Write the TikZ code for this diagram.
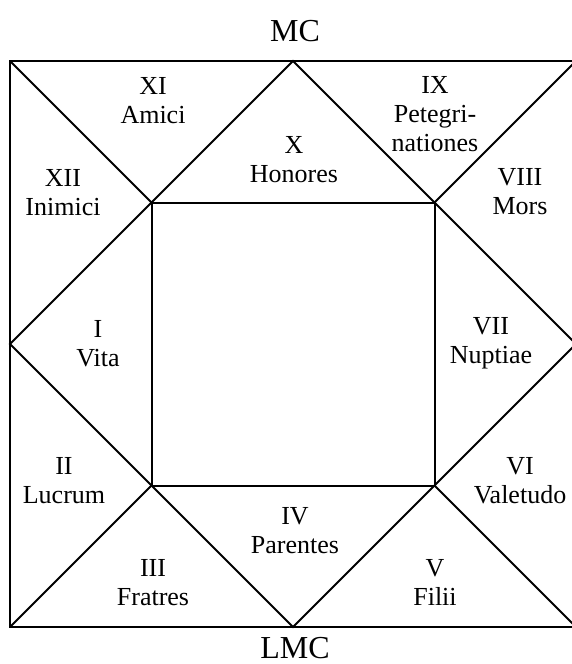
\documentclass[tikz,border=0pt]{standalone}
\usepackage{fontspec}
\setmainfont{Liberation Serif}
\begin{document}
\begin{tikzpicture}[x=1pt,y=-1pt,line width=2pt,
  lbl/.style={align=center,font=\fontsize{26}{29}\selectfont,inner sep=0pt},
  ttl/.style={font=\fontsize{32}{34}\selectfont,inner sep=0pt}]
\useasboundingbox (0,0) rectangle (571,664);
% outer corners
\coordinate (TL) at (10,61);
\coordinate (TR) at (576,61);
\coordinate (BR) at (576,627);
\coordinate (BL) at (10,627);
% midpoints
\coordinate (T) at (293,61);
\coordinate (R) at (576,344);
\coordinate (B) at (293,627);
\coordinate (L) at (10,344);
% inner corners
\coordinate (ITL) at (151.5,202.5);
\coordinate (ITR) at (434.5,202.5);
\coordinate (IBR) at (434.5,485.5);
\coordinate (IBL) at (151.5,485.5);
% drawing
\draw (TL) -- (TR) -- (BR) -- (BL) -- cycle;
\draw (T) -- (R) -- (B) -- (L) -- cycle;
\draw (ITL) -- (ITR) -- (IBR) -- (IBL) -- cycle;
\draw (TL) -- (ITL);
\draw (TR) -- (ITR);
\draw (BR) -- (IBR);
\draw (BL) -- (IBL);
% titles
\node[ttl] (mc) at (295,31) {MC};
\node[ttl] (lmc) at (295,648) {LMC};
% houses
\node[lbl] (h11) at (153,101) {XI\\Amici};
\node[lbl] (h10) at (294,160) {X\\Honores};
\node[lbl] (h9) at (435,114) {IX\\Petegri-\\nationes};
\node[lbl] (h12) at (63,192.5) {XII\\Inimici};
\node[lbl] (h8) at (520,192) {VIII\\Mors};
\node[lbl] (h1) at (98,344) {I\\Vita};
\node[lbl] (h7) at (491,343) {VII\\Nuptiae};
\node[lbl] (h2) at (64,481) {II\\Lucrum};
\node[lbl] (h6) at (520,481) {VI\\Valetudo};
\node[lbl] (h4) at (295,530.5) {IV\\Parentes};
\node[lbl] (h3) at (153,582.5) {III\\Fratres};
\node[lbl] (h5) at (435,582) {V\\Filii};
\end{tikzpicture}
\end{document}
